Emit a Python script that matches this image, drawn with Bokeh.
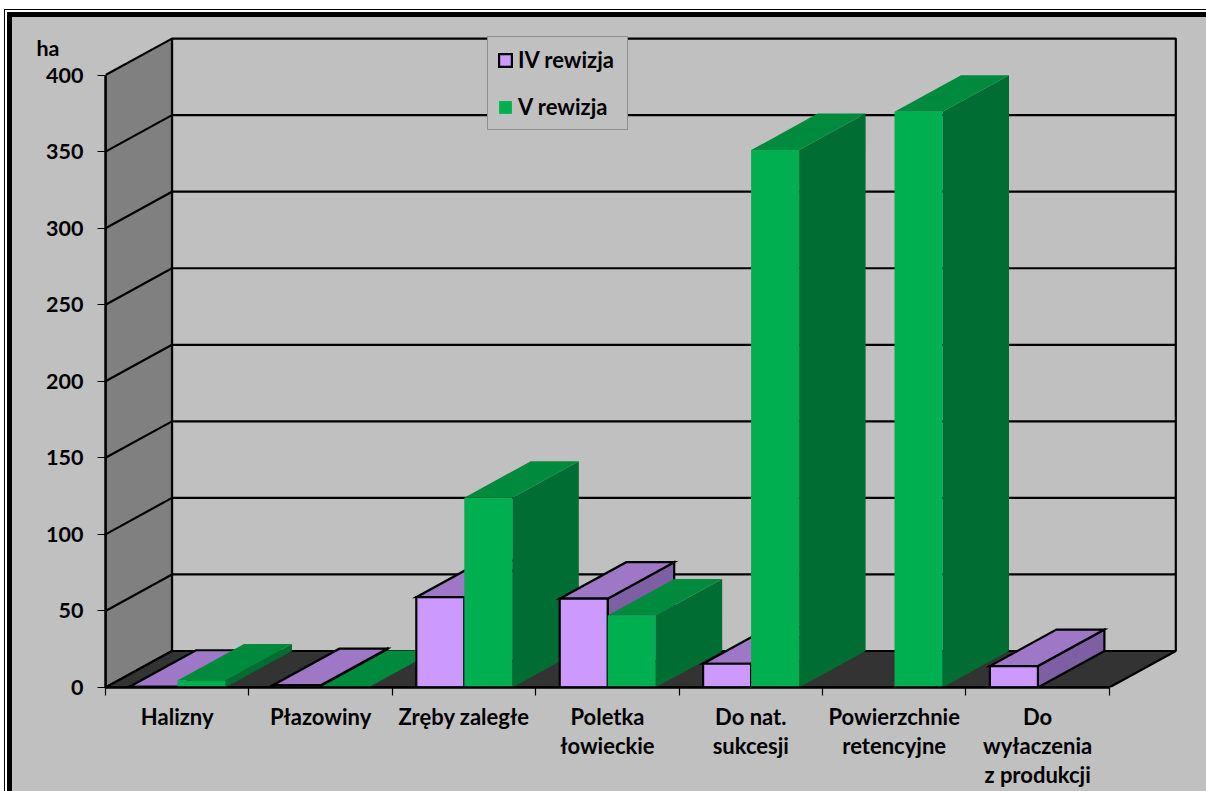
from bokeh.plotting import figure
from bokeh.embed import file_html
from bokeh.resources import INLINE
from bokeh.models import (Range1d, LinearAxis, FixedTicker, Legend, LegendItem)

categories = ["Halizny", "Płazowiny", "Zręby zaległe", "Poletka\nłowieckie", "Do nat.\nsukcesji",
              "Powierzchnie\nretencyjne", "Do\nwyłaczenia\nz produkcji"]
series_names = ["IV rewizja", "V rewizja"]
iv_rewizja = [0.5, 1.5, 59, 58, 15.5, None, 14]
v_rewizja = [4.5, 0.3, 124, 47, 351, 376, None]
y_ticks = [0, 50, 100, 150, 200, 250, 300, 350, 400]
unit_label = "ha"
unit_label_at = 418

BG = "#C0C0C0"
PX_CAT = 143.4      # pixels per category
PX_VAL = 1.531      # pixels per value unit
DX = 66.5 / PX_CAT  # depth shift, in category units
DY = 36.5 / PX_VAL  # depth shift, in value units
BAR_W = 48 / PX_CAT
GAP = 24 / PX_CAT
N = len(categories)
TOP = 400
FONT = "Lato"

p = figure(width=1194, height=774, output_backend="svg", toolbar_location=None,
           x_axis_type=None, y_axis_type=None,
           x_range=Range1d(0, (1206 - 105) / PX_CAT), y_range=Range1d(0, (687 - 17) / PX_VAL),
           min_border_left=93, min_border_bottom=104, min_border_top=0, min_border_right=0,
           background_fill_color=BG, border_fill_color=BG, outline_line_color=None,
           margin=(17, 0, 0, 12))
p.styles = {"box-shadow": "0 0 0 5px black, 0 0 0 7px white, 0 0 0 8px black",
            "background-color": BG}

# walls and floor
LW = 2.2
p.patch([DX, N + DX, N + DX, DX], [DY, DY, TOP + DY, TOP + DY], fill_color=BG, line_color="black", line_width=LW)
p.patch([0, DX, DX, 0], [0, DY, TOP + DY, TOP], fill_color="#808080", line_color="black", line_width=LW)
p.patch([0, N, N + DX, DX], [0, 0, DY, DY], fill_color="#333333", line_color="black", line_width=LW)
for v in y_ticks[1:-1]:
    p.line([0, DX, N + DX], [v, v + DY, v + DY], line_color="black", line_width=LW)

# bars
styles = [dict(front="#CC99FF", top="#9F77C7", side="#7E5FA3", line_color="black", line_width=2.2),
          dict(front="#00B050", top="#008A3E", side="#006D32", line_color=None, line_width=0)]
legend_refs = [None, None]
for i in range(N):
    for j, vals in enumerate((iv_rewizja, v_rewizja)):
        v = vals[i]
        if v is None:
            continue
        s = styles[j]
        x0 = i + GAP + j * BAR_W
        x1 = x0 + BAR_W
        kw = dict(line_color=s["line_color"], line_width=s["line_width"], line_join="miter")
        p.patch([x1, x1 + DX, x1 + DX, x1], [0, DY, v + DY, v], fill_color=s["side"], **kw)
        p.patch([x0, x1, x1 + DX, x0 + DX], [v, v, v + DY, v + DY], fill_color=s["top"], **kw)
        r = p.patch([x0, x1, x1, x0], [0, 0, v, v], fill_color=s["front"], **kw)
        if legend_refs[j] is None:
            legend_refs[j] = r

# axes
yax = LinearAxis(ticker=FixedTicker(ticks=y_ticks), bounds=(0, TOP),
                 axis_line_color="black", axis_line_width=2.5,
                 major_tick_line_color="black", major_tick_line_width=1.2,
                 major_tick_out=8, major_tick_in=0, minor_tick_out=0, minor_tick_in=0,
                 major_label_standoff=14, major_label_text_font=FONT,
                 major_label_text_font_style="bold", major_label_text_font_size="21.5px",
                 major_label_text_color="black")
p.add_layout(yax, "left")
unit_ax = LinearAxis(ticker=FixedTicker(ticks=[unit_label_at]),
                     major_label_overrides={unit_label_at: unit_label},
                     axis_line_color=None, major_tick_line_color=None, minor_tick_line_color=None,
                     major_tick_out=0, major_tick_in=0, minor_tick_out=0, minor_tick_in=0,
                     major_label_standoff=-16, major_label_text_font=FONT,
                     major_label_text_font_style="bold", major_label_text_font_size="21.5px",
                     major_label_text_color="black")
p.add_layout(unit_ax, "left")
xax = LinearAxis(ticker=FixedTicker(ticks=[i + 0.5 for i in range(N)], minor_ticks=list(range(N + 1))),
                 bounds=(0, N),
                 major_label_overrides={i + 0.5: c for i, c in enumerate(categories)},
                 axis_line_color="black", axis_line_width=2.5,
                 major_tick_out=0, major_tick_in=0,
                 minor_tick_line_color="black", minor_tick_line_width=1.2,
                 minor_tick_out=8, minor_tick_in=0,
                 major_label_standoff=7, major_label_text_font=FONT,
                 major_label_text_font_style="bold", major_label_text_font_size="22px",
                 major_label_text_color="black", major_label_text_line_height=1.09)
p.add_layout(xax, "below")

legend = Legend(items=[LegendItem(label=series_names[k], renderers=[legend_refs[k]]) for k in range(2)],
                location=(382, 557), orientation="vertical", background_fill_color=BG,
                background_fill_alpha=1, border_line_color="#5f5f5f", border_line_width=1.5,
                glyph_width=16, glyph_height=16, label_standoff=5, label_width=100, label_height=20,
                padding=9, spacing=20, margin=0,
                label_text_font=FONT, label_text_font_style="bold", label_text_font_size="22px",
                label_text_color="black")
p.add_layout(legend)

open("out.html", "w").write(file_html(p, INLINE))
